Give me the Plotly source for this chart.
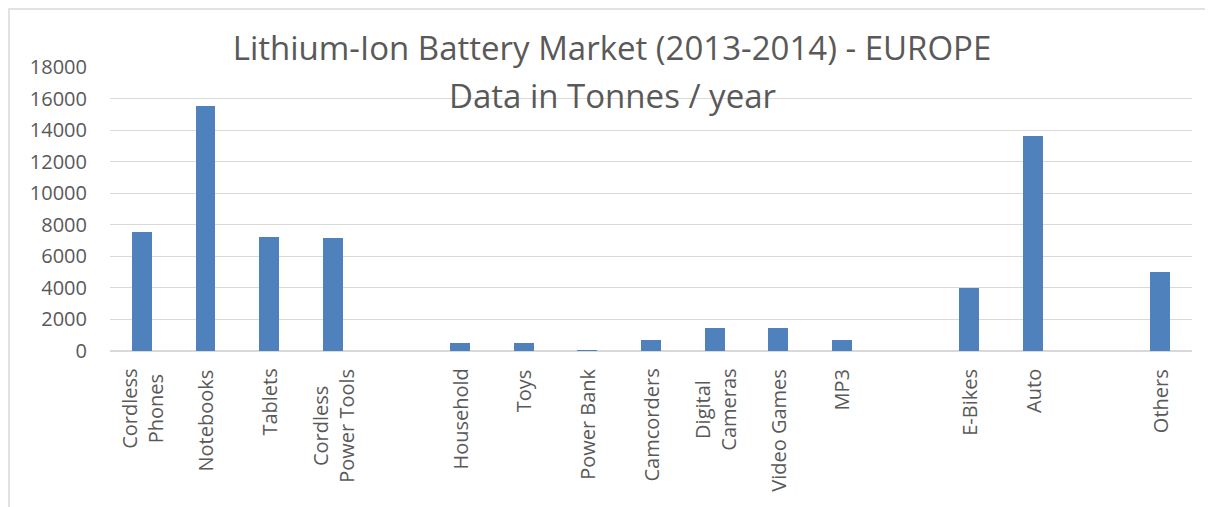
import plotly.graph_objects as go

# categories (None = empty slot between groups)
categories = ['Cordless<br>Phones', 'Notebooks', 'Tablets', 'Cordless<br>Power Tools', None,
              'Household', 'Toys', 'Power Bank', 'Camcorders', 'Digital<br>Cameras',
              'Video Games', 'MP3', None, 'E-Bikes', 'Auto', None, 'Others']
tonnes = [7550, 15500, 7250, 7150, None,
          500, 500, 50, 700, 1450,
          1450, 700, None, 4000, 13650, None, 5000]
y_ticks = [0, 2000, 4000, 6000, 8000, 10000, 12000, 14000, 16000, 18000]

title_1 = 'Lithium-Ion Battery Market (2013-2014) - EUROPE'
title_2 = 'Data in Tonnes / year'

FONT = 'Open Sans'
GREY = '#595959'
GRID = '#d9d9d9'

# the page body has an 8px margin, so the figure is drawn 8px in from the window
OFF = 8
W, H = 1213 - OFF, 507 - OFF
# plot area in window pixels
L, R, T, B = 110, 1192, 67, 351


def px_x(p):
    return (p - L) / (R - L)


def px_y(p):
    return (B - p) / (B - T)


x = list(range(len(categories)))

fig = go.Figure()
fig.add_trace(go.Bar(x=x, y=tonnes, width=0.31,
                     marker=dict(color='#4f81bd', line=dict(width=0)),
                     hoverinfo='y'))

# category labels, rotated and centred like the excel wrap
for i, cat in enumerate(categories):
    if cat is None:
        continue
    fig.add_annotation(x=i, y=0, xref='x', yref='paper', text=cat,
                       textangle=-90, showarrow=False, xanchor='center',
                       yanchor='top', yshift=-16, align='center',
                       font=dict(family=FONT, size=20, color=GREY))

fig.add_annotation(x=px_x(612), y=px_y(95), xref='paper', yref='paper',
                   text=title_2, showarrow=False, xanchor='center', yanchor='middle',
                   font=dict(family=FONT, size=33, color=GREY))

# chart area border (only top/left visible in the picture)
fig.add_shape(type='rect', xref='paper', yref='paper',
              x0=px_x(9), x1=px_x(1240), y0=px_y(540), y1=px_y(9),
              line=dict(color=GRID, width=1.5), fillcolor='rgba(0,0,0,0)', layer='below')

fig.update_layout(
    width=W, height=H,
    margin=dict(l=L - OFF, r=W - (R - OFF), t=T - OFF, b=H - (B - OFF), autoexpand=False),
    paper_bgcolor='white', plot_bgcolor='white',
    showlegend=False,
    title=dict(text=title_1, x=(612 - OFF) / W, xanchor='center', xref='container',
               y=1 - 40 / H, yanchor='middle', yref='container',
               font=dict(family=FONT, size=33, color=GREY)),
    xaxis=dict(range=[-0.5, len(categories) - 0.5], showticklabels=False,
               showgrid=False, zeroline=False, showline=False, ticks='',
               automargin=False),
    yaxis=dict(range=[0, 18000], tickvals=y_ticks, ticktext=[str(v) for v in y_ticks],
               showgrid=True, gridcolor=GRID, gridwidth=1,
               zeroline=True, zerolinecolor=GRID, zerolinewidth=1.5,
               showline=False, ticks='', ticklabelstandoff=22, automargin=False,
               tickfont=dict(family=FONT, size=20, color=GREY)),
    bargap=0,
)

fig.write_html('out.html')
